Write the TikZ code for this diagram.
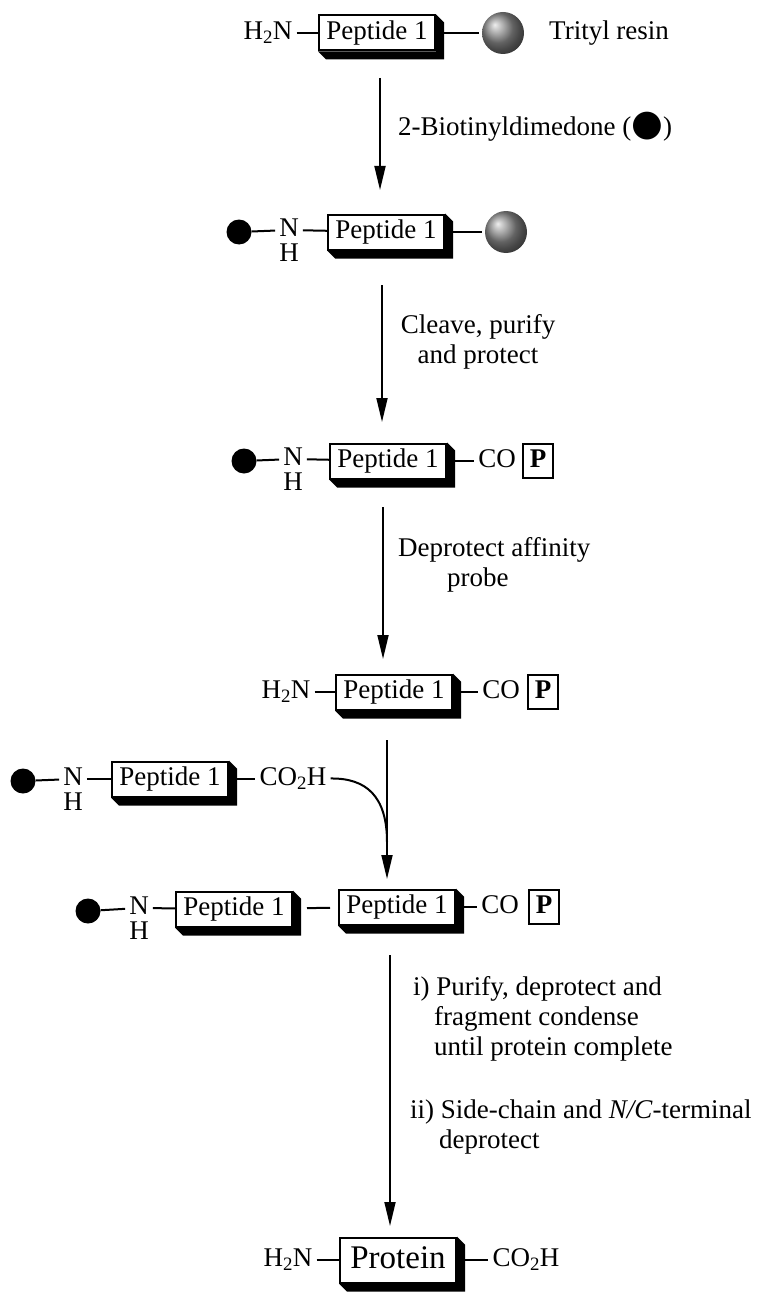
\documentclass[tikz,border=0pt]{standalone}
\usepackage{fontspec}
\setmainfont{Liberation Serif}
\newfontfamily\dotfont{DejaVu Sans}
\usetikzlibrary{arrows.meta,positioning}

% dark band on the right and bottom of a peptide box
\newcommand\extrude[1]{\fill (#1.north east) -- ++(8,8) -- ([shift={(8,8)}]#1.south east)
  -- ([shift={(8,8)}]#1.south west) -- (#1.south west) -- (#1.south east) -- cycle;}

\begin{document}
\begin{tikzpicture}[x=1pt,y=-1pt,
  grp/.style={inner xsep=4pt,inner ysep=0pt,text height=19pt,text depth=6pt,font=\fontsize{27}{30}\selectfont},
  pep/.style={draw,fill=white,line width=2pt,minimum width=116pt,minimum height=35pt,inner sep=0pt,
    text height=19pt,text depth=6pt,font=\fontsize{27}{30}\selectfont},
  pbox/.style={draw,line width=2pt,minimum width=30pt,minimum height=34pt,inner sep=0pt,
    text height=19pt,text depth=6pt,font=\fontsize{27}{30}\selectfont\bfseries},
  resin/.style={circle,minimum size=42pt,inner sep=0pt,shading=ball,ball color=black!45},
  biotin/.style={circle,fill=black,minimum size=25pt,inner sep=0pt},
  bond/.style={line width=2pt},
  rxn/.style={line width=1.8pt,-{Triangle[length=24pt,width=11pt]}},
  lbl/.style={font=\fontsize{27}{30}\selectfont,align=left,inner sep=0pt,anchor=west}]
\useasboundingbox (0,0) rectangle (760,1292);

% loading on trityl resin
\node[grp] (h2nA) at (268,33) {H\textsubscript{2}N};
\node[pep] (pepA) at (377,33) {Peptide 1};
\node[resin] (resA) at (503,33) {};
\node[grp,anchor=west] (trityl) at (545,33) {Trityl resin};
\extrude{pepA}
\draw[bond] (h2nA) -- (pepA);
\draw[bond,shorten >=3pt] (pepA) -- (resA);

\coordinate (s1) at (380,78);
\coordinate (e1) at (380,190);
\draw[rxn] (s1) -- (e1);
\node[lbl] (cond1) at (398,127) {2-Biotinyldimedone ({\dotfont\scalebox{1.35}{●}})};

% biotinylated on resin
\node[biotin] (dotB) at (239,232) {};
\node[grp] (nB) at (289,230) {N};
\node[grp,below=0pt of nB] (hB) {H};
\node[pep] (pepB) at (386,232) {Peptide 1};
\node[resin] (resB) at (506,232) {};
\extrude{pepB}
\draw[bond] (dotB) -- (nB);
\draw[bond] (nB) -- (pepB);
\draw[bond,shorten >=3pt] (pepB) -- (resB);

\coordinate (s2) at (382,285);
\coordinate (e2) at (382,422);
\draw[rxn] (s2) -- (e2);
\node[lbl,anchor=center,align=center] (cond2) at (478,342) {Cleave, purify\\and protect};

% protected fragment
\node[biotin] (dotC) at (244,461) {};
\node[grp] (nC) at (293,459) {N};
\node[grp,below=0pt of nC] (hC) {H};
\node[pep] (pepC) at (388,461) {Peptide 1};
\node[grp] (coC) at (497,461) {CO};
\node[pbox] (pC) at (538,461) {P};
\extrude{pepC}
\draw[bond] (dotC) -- (nC);
\draw[bond] (nC) -- (pepC);
\draw[bond] (pepC) -- (coC);

\coordinate (s3) at (383,507);
\coordinate (e3) at (383,659);
\draw[rxn] (s3) -- (e3);
\node[lbl] (cond3) at (398,565) {Deprotect affinity\\\hspace*{49pt}probe};

% free amine
\node[grp] (h2nD) at (286,692) {H\textsubscript{2}N};
\node[pep] (pepD) at (394,692) {Peptide 1};
\node[grp] (coD) at (501,692) {CO};
\node[pbox] (pD) at (543,692) {P};
\extrude{pepD}
\draw[bond] (h2nD) -- (pepD);
\draw[bond] (pepD) -- (coD);

% incoming acid fragment
\node[biotin] (dotE) at (23,781) {};
\node[grp] (nE) at (73,779) {N};
\node[grp,below=0pt of nE] (hE) {H};
\node[pep] (pepE) at (170,779) {Peptide 1};
\node[grp] (co2hE) at (293,779) {CO\textsubscript{2}H};
\extrude{pepE}
\draw[bond] (dotE) -- (nE);
\draw[bond] (nE) -- (pepE);
\draw[bond] (pepE) -- (co2hE);

\coordinate (s4) at (387,740);
\coordinate (e4) at (387,879);
\coordinate (join) at (387,842);
\draw[rxn] (s4) -- (e4);
\draw[bond] (co2hE) .. controls (366,778) and (387,796) .. (join);

% condensed fragments
\node[biotin] (dotF) at (88,911) {};
\node[grp] (nF) at (139,908) {N};
\node[grp,below=0pt of nF] (hF) {H};
\node[pep] (pepF) at (234,909) {Peptide 1};
\node[pep] (pepG) at (397,907) {Peptide 1};
\node[grp] (coG) at (500,907) {CO};
\node[pbox] (pG) at (544,907) {P};
\extrude{pepF}
\extrude{pepG}
\draw[bond] (dotF) -- (nF);
\draw[bond] (nF) -- (pepF);
\draw[bond,shorten <=14pt,shorten >=8pt] (pepF) -- (pepG);
\draw[bond] (pepG) -- (coG);

\coordinate (s5) at (390,955);
\coordinate (e5) at (390,1226);
\draw[rxn] (s5) -- (e5);
\node[lbl] (cond4) at (413,1019) {i) Purify, deprotect and\\\hspace*{21pt}fragment condense\\\hspace*{21pt}until protein complete};
\node[lbl] (cond5) at (410,1127) {ii) Side-chain and \textit{N/C}-terminal\\\hspace*{29pt}deprotect};

% final protein
\node[grp] (h2nH) at (288,1260) {H\textsubscript{2}N};
\node[pep,minimum height=45pt,text height=23pt,text depth=7pt,font=\fontsize{33}{36}\selectfont] (prot) at (398,1260) {Protein};
\node[grp] (co2hH) at (526,1260) {CO\textsubscript{2}H};
\extrude{prot}
\draw[bond] (h2nH) -- (prot);
\draw[bond] (prot) -- (co2hH);
\end{tikzpicture}
\end{document}
